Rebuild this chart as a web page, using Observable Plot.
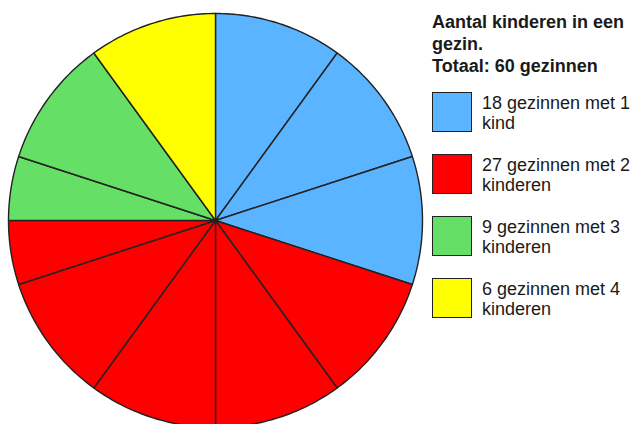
<!DOCTYPE html>
<html>
<head>
<meta charset="utf-8">
<script src="https://cdn.jsdelivr.net/npm/d3@7"></script>
<script src="https://cdn.jsdelivr.net/npm/@observablehq/plot@0.6"></script>
<style>
  html, body { margin: 0; padding: 0; background: #fff; }
  #wrap { position: relative; width: 635px; height: 424px; overflow: hidden; font-family: "Liberation Sans", Arial, sans-serif; color: #1a1a1a; }
  #chart { position: absolute; left: 0; top: 0; }
  #title { position: absolute; left: 432px; top: 11px; font-weight: bold; font-size: 18px; line-height: 22px; white-space: pre; }
  #legend { position: absolute; left: 432px; top: 92px; display: flex; flex-direction: column; gap: 21px; }
  .item { display: flex; align-items: flex-start; }
  .sw { width: 40px; height: 40px; box-sizing: border-box; border: 1.5px solid #222; flex: none; }
  .lab { margin-left: 10px; margin-top: 1px; font-size: 18px; line-height: 20px; white-space: pre; }
</style>
</head>
<body>
<div id="wrap">
  <div id="chart"></div>
  <div id="title"></div>
  <div id="legend"></div>
</div>
<script>
// ---- data ----
const titleLines = ["Aantal kinderen in een", "gezin.", "Totaal: 60 gezinnen"];
const children = [1, 2, 3, 4];
const families = [18, 27, 9, 6];
const labels = [
  "18 gezinnen met 1\nkind",
  "27 gezinnen met 2\nkinderen",
  "9 gezinnen met 3\nkinderen",
  "6 gezinnen met 4\nkinderen"
];
const colors = ["#5ab4ff", "#ff0000", "#66df66", "#ffff00"];
const wedgeSize = 6; // each drawn wedge = 6 gezinnen

// ---- build wedges: split categories on a grid of wedgeSize ----
const total = d3.sum(families);
const cum = d3.cumsum(families);
const bounds = Array.from(new Set([
  ...d3.range(0, total + 1, wedgeSize),
  0, ...cum
])).sort((a, b) => a - b);

const pts = [];
for (let i = 0; i < bounds.length - 1; i++) {
  const u0 = bounds[i], u1 = bounds[i + 1];
  const catIdx = cum.findIndex(c => c > u0);
  const cat = labels[catIdx];
  const a0 = u0 / total * 2 * Math.PI, a1 = u1 / total * 2 * Math.PI;
  const n = Math.max(2, Math.ceil((a1 - a0) / (Math.PI / 180)));
  pts.push({w: i, cat, x: 0, y: 0});
  for (let k = 0; k <= n; k++) {
    const a = a0 + (a1 - a0) * k / n;
    pts.push({w: i, cat, x: Math.sin(a), y: Math.cos(a)});
  }
  pts.push({w: i, cat, x: 0, y: 0});
}

const chart = Plot.plot({
  width: 635,
  height: 424,
  margin: 0,
  x: {domain: [-1, 1], range: [8, 422], axis: null},
  y: {domain: [-1, 1], range: [427, 13], axis: null},
  color: {domain: labels, range: colors},
  marks: [
    Plot.line(pts, {x: "x", y: "y", z: "w", fill: "cat", stroke: "#222", strokeWidth: 1.4, strokeLinejoin: "round"})
  ]
});
document.getElementById("chart").appendChild(chart);

// ---- title & legend (HTML text) ----
document.getElementById("title").textContent = titleLines.join("\n");
const legend = d3.select("#legend");
labels.forEach((l, i) => {
  const it = legend.append("div").attr("class", "item");
  it.append("div").attr("class", "sw").style("background", colors[i]);
  it.append("div").attr("class", "lab").text(l);
});
</script>
</body>
</html>
